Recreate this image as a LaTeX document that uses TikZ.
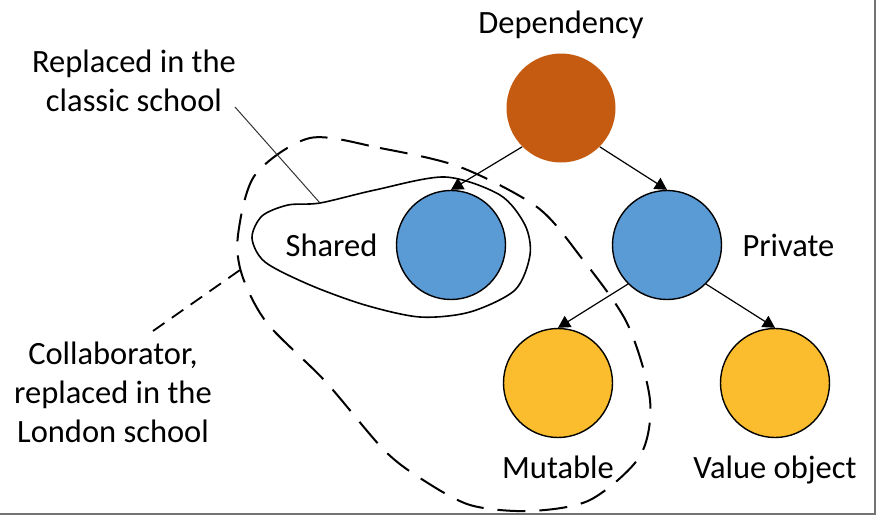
\documentclass[tikz,border=0pt]{standalone}
\usepackage{fontspec}
\setmainfont{Carlito}
\usepackage{tikz}
\usetikzlibrary{arrows.meta,positioning}
\definecolor{deporange}{HTML}{C55A11}
\definecolor{sharedblue}{HTML}{5B9BD5}
\definecolor{leafgold}{HTML}{FBBC2D}
\tikzstyle{kind} = [circle, inner sep=0pt, minimum size=54.5pt]
\tikzstyle{caption} = [inner sep=0pt, align=center]
\tikzstyle{connector} = [line width=0.6pt,-{Triangle[width=6.5pt,length=6pt]}]
\tikzstyle{leader} = [line width=0.5pt, black!80]

\begin{document}
\begin{tikzpicture}[x=0.5pt,y=-0.5pt,every node/.style={font=\fontsize{16.25}{19.5}\selectfont}]
        \useasboundingbox (0,0) rectangle (880,516);
        \draw [black!55, line width=1.25pt] (875,0) -- (875,514) -- (0,514);
        % groups
        \draw [line width=0.8pt] plot [smooth cycle] coordinates {(320,203) (375,190) (445,177) (500,195) (525,225) (530,255) (515,290) (470,312) (420,317) (365,305) (310,285) (265,262) (252,238) (262,216) (288,205)};
        \draw [line width=1pt, dash pattern=on 14pt off 7pt] plot [smooth cycle] coordinates {(310,138) (380,148) (460,167) (537,207) (580,256) (627,323) (650,400) (640,456) (590,500) (530,511) (470,505) (420,478) (383,449) (325,381) (267,323) (242,275) (238,235) (255,175)};
        % tree
        \node (dependency) [kind, fill=deporange] at (561,108) {};
        \node (shared) [kind, draw, line width=0.7pt, fill=sharedblue] at (451,245) {};
        \node (private) [kind, draw, line width=0.7pt, fill=sharedblue] at (667,245) {};
        \node (mutable) [kind, draw, line width=0.7pt, fill=leafgold] at (558,383) {};
        \node (value) [kind, draw, line width=0.7pt, fill=leafgold] at (775,383) {};
        \node (dependency-label) [caption, above=7pt of dependency] {Dependency};
        \node (shared-label) [caption, left=9pt of shared] {Shared};
        \node (private-label) [caption, right=10pt of private] {Private};
        \node (mutable-label) [caption, below=8.5pt of mutable] {Mutable};
        \node (value-label) [caption, below=8.5pt of value] {Value object};
        \draw [connector] (dependency.-135) -- (shared.north);
        \draw [connector] (dependency.-45) -- (private.north);
        \draw [connector] (private.-135) -- (mutable.north);
        \draw [connector] (private.-45) -- (value.north);
        % notes
        \node (classic-note) [caption] at (134,81) {Replaced in the\\classic school};
        \node (london-note) [caption] at (113,392) {Collaborator,\\replaced in the\\London school};
        \coordinate (classic-from) at (235,107);
        \coordinate (classic-to) at (320,203);
        \coordinate (london-from) at (153,331);
        \coordinate (london-to) at (240,270);
        \draw [leader] (classic-from) -- (classic-to);
        \draw [leader, line width=0.9pt, black, dash pattern=on 7pt off 4.5pt] (london-from) -- (london-to);
    \end{tikzpicture}
\end{document}
